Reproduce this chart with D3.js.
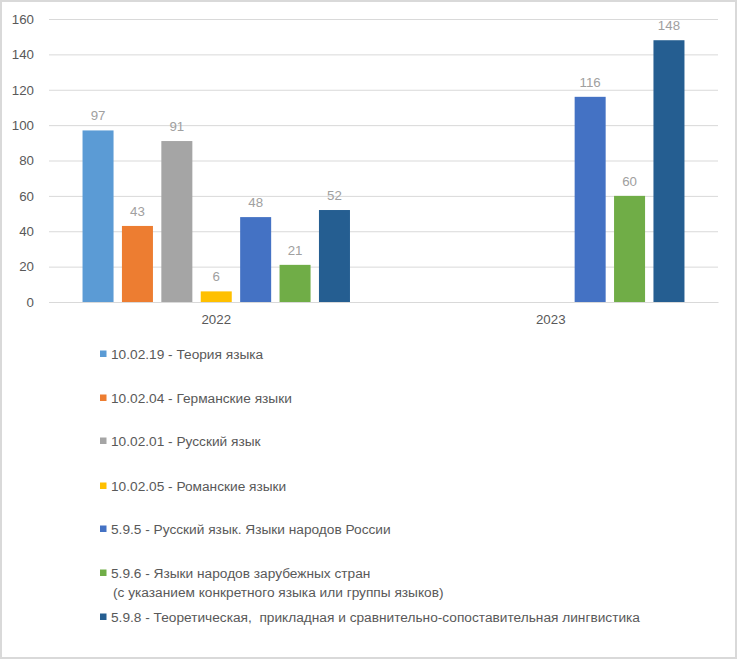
<!DOCTYPE html>
<html><head><meta charset="utf-8">
<script src="https://cdn.jsdelivr.net/npm/d3@7"></script>
<style>
html,body{margin:0;padding:0;background:#fff;}
svg{display:block;}
</style></head>
<body>
<svg id="chart" width="737" height="659"></svg>
<script>
const categories = ["2022", "2023"];
const seriesNames = [
  "10.02.19 - Теория языка",
  "10.02.04 - Германские языки",
  "10.02.01 - Русский язык",
  "10.02.05 - Романские языки",
  "5.9.5 - Русский язык. Языки народов России",
  "5.9.6 - Языки народов зарубежных стран\n(с указанием конкретного языка или группы языков)",
  "5.9.8 - Теоретическая,  прикладная и сравнительно-сопоставительная лингвистика"
];
const seriesColors = ["#5B9BD5", "#ED7D31", "#A5A5A5", "#FFC000", "#4472C4", "#70AD47", "#255E91"];
const values2022 = [97, 43, 91, 6, 48, 21, 52];
const values2023 = [null, null, null, null, 116, 60, 148];
const yTicks = [0, 20, 40, 60, 80, 100, 120, 140, 160];

const valuesByCat = [values2022, values2023];
const svg = d3.select("#chart");
const W = 737, H = 659;

// outer border
svg.append("rect").attr("x", 1).attr("y", 1).attr("width", W - 2).attr("height", H - 2)
  .attr("fill", "#fff").attr("stroke", "#d9d9d9").attr("stroke-width", 2);

const pLeft = 49, pRight = 718, pTop = 19, pBottom = 302;
const x0 = d3.scaleBand().domain(categories).range([pLeft, pRight]).padding(0);
const x1 = d3.scaleBand().domain(d3.range(seriesNames.length)).range([0, x0.bandwidth()])
  .paddingInner(0.213).paddingOuter(0.851);
const y = d3.scaleLinear().domain([0, 160]).range([pBottom, pTop]);

const axisFont = "'Liberation Sans', Arial, sans-serif";

// gridlines
const yAxis = d3.axisLeft(y).tickValues(yTicks).tickSize(-(pRight - pLeft)).tickPadding(15);
const gy = svg.append("g").attr("transform", `translate(${pLeft},0)`).call(yAxis);
gy.select(".domain").remove();
gy.selectAll(".tick line").attr("stroke", "#d9d9d9").attr("stroke-width", 1);
gy.selectAll(".tick text").attr("fill", "#595959").style("font-family", axisFont).style("font-size", "13.3px");

// bars
const groups = svg.append("g").selectAll("g").data(categories).join("g")
  .attr("transform", d => `translate(${x0(d)},0)`);
groups.each(function(cat, ci) {
  const vals = valuesByCat[ci].map((v, i) => ({v, i})).filter(d => d.v != null);
  const g = d3.select(this);
  g.selectAll("rect").data(vals).join("rect")
    .attr("x", d => x1(d.i)).attr("width", x1.bandwidth())
    .attr("y", d => y(d.v)).attr("height", d => y(0) - y(d.v))
    .attr("fill", d => seriesColors[d.i]);
  g.selectAll("text").data(vals).join("text")
    .attr("x", d => x1(d.i) + x1.bandwidth() / 2)
    .attr("y", d => y(d.v) - 10)
    .attr("text-anchor", "middle")
    .attr("fill", "#a0a0a0")
    .style("font-family", axisFont).style("font-size", "13.3px")
    .text(d => d.v);
});

// x axis
const xAxis = d3.axisBottom(x0).tickSize(0).tickPadding(13);
const gx = svg.append("g").attr("transform", `translate(0,${pBottom})`).call(xAxis);
gx.select(".domain").attr("stroke", "#d9d9d9");
gx.selectAll(".tick text").attr("fill", "#595959").style("font-family", axisFont).style("font-size", "13.3px");

// legend
const legendY = [354, 398, 441, 486, 529, 573, 617];
const lg = svg.append("g");
seriesNames.forEach((name, i) => {
  const g = lg.append("g").attr("transform", `translate(100,${legendY[i]})`);
  g.append("rect").attr("x", 0).attr("y", -3.5).attr("width", 6.5).attr("height", 6.5).attr("fill", seriesColors[i]);
  const lines = name.split("\n");
  lines.forEach((ln, k) => {
    g.append("text").attr("x", k === 0 ? 11 : 13).attr("y", k * 19).attr("dy", "0.35em")
      .attr("fill", "#595959").style("font-family", axisFont).style("font-size", "13.7px")
      .attr("xml:space", "preserve")
      .text(ln);
  });
});
</script>
</body></html>
